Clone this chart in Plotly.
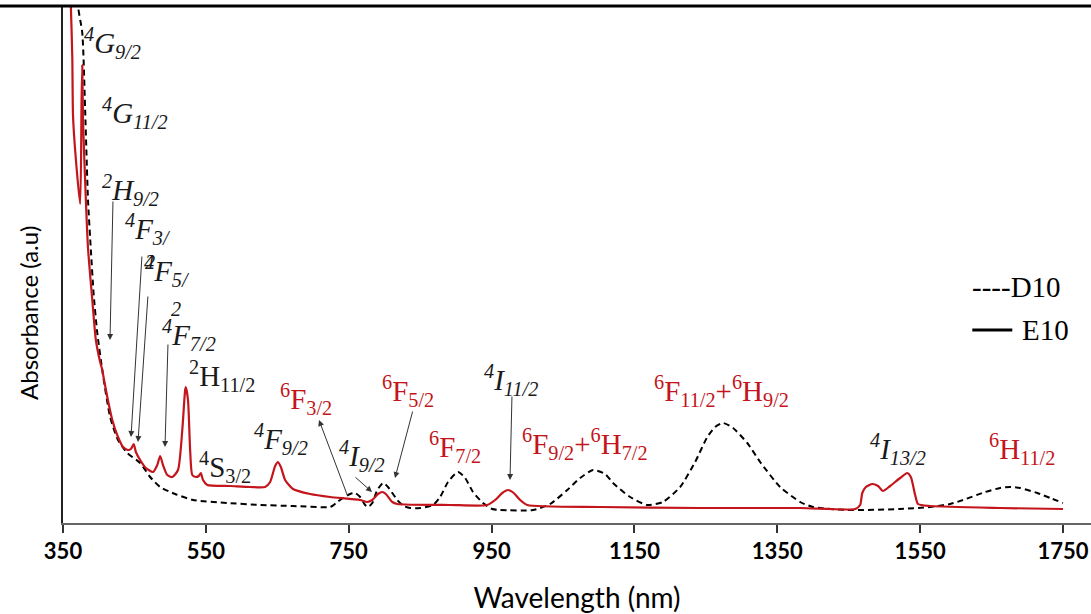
import plotly.graph_objects as go

# ---------------- data (wavelength nm, absorbance a.u.) ----------------
e10_wl = [358, 361, 363, 364, 367, 374, 376, 377, 378, 382, 385, 391, 396, 402, 405, 407, 412,
          419, 427, 434, 441, 445, 449, 452, 458, 466, 476, 482, 486, 490, 496, 503, 511, 517,
          521, 522, 525, 528, 531, 536, 540, 543, 546, 552, 584, 612, 633, 640, 647, 651, 655,
          661, 672, 696, 724, 766, 776, 783, 791, 797, 802, 811, 818, 892, 944, 955, 965, 973,
          981, 990, 1000, 1102, 1242, 1382, 1459, 1466, 1469, 1474, 1483, 1491, 1498, 1508,
          1522, 1532, 1537, 1543, 1547, 1564, 1662, 1750]
e10_abs = [5.83, 5.17, 4.66, 4.08, 3.73, 3.19, 4.23, 4.58, 4.03, 3.23, 2.75, 2.23, 1.83, 1.61, 1.53,
           1.45, 1.26, 1.03, 0.86, 0.76, 0.73, 0.74, 0.79, 0.71, 0.63, 0.55, 0.51, 0.58, 0.67, 0.58,
           0.48, 0.46, 0.53, 0.93, 1.33, 1.36, 1.23, 0.73, 0.48, 0.46, 0.47, 0.50, 0.43, 0.38, 0.37,
           0.36, 0.36, 0.41, 0.57, 0.61, 0.56, 0.43, 0.34, 0.29, 0.26, 0.23, 0.21, 0.23, 0.29, 0.31,
           0.29, 0.21, 0.19, 0.18, 0.18, 0.23, 0.30, 0.33, 0.30, 0.23, 0.18, 0.16, 0.15, 0.15, 0.14,
           0.18, 0.30, 0.36, 0.39, 0.37, 0.32, 0.37, 0.45, 0.50, 0.46, 0.28, 0.19, 0.17, 0.15, 0.14]

d10_wl = [370, 371, 377, 381, 385, 389, 393, 398, 406, 416, 427, 440, 458, 472, 486, 507, 532, 580,
          626, 672, 724, 729, 734, 742, 752, 759, 766, 773, 777, 783, 790, 798, 805, 818, 827, 836,
          850, 868, 878, 889, 903, 913, 924, 938, 951, 962, 1008, 1032, 1056, 1074, 1092, 1109,
          1120, 1144, 1168, 1190, 1214, 1235, 1252, 1263, 1274, 1288, 1308, 1326, 1354, 1382,
          1400, 1448, 1522, 1564, 1592, 1610, 1641, 1662, 1676, 1690, 1714, 1732, 1750]
d10_abs = [5.63, 5.17, 4.90, 4.13, 3.23, 2.73, 2.28, 1.90, 1.48, 1.06, 0.83, 0.70, 0.60, 0.46, 0.36,
           0.29, 0.23, 0.20, 0.18, 0.17, 0.16, 0.18, 0.21, 0.25, 0.29, 0.30, 0.26, 0.18, 0.16, 0.20,
           0.33, 0.40, 0.36, 0.23, 0.17, 0.15, 0.15, 0.18, 0.26, 0.41, 0.51, 0.45, 0.31, 0.20, 0.14,
           0.13, 0.13, 0.19, 0.33, 0.45, 0.53, 0.49, 0.40, 0.26, 0.18, 0.21, 0.36, 0.61, 0.86, 0.96,
           1.00, 0.95, 0.80, 0.61, 0.36, 0.21, 0.16, 0.13, 0.14, 0.16, 0.19, 0.23, 0.31, 0.35, 0.36,
           0.35, 0.30, 0.25, 0.20]

tick_vals = [350, 550, 750, 950, 1150, 1350, 1550, 1750]
tick_text = [str(v) for v in tick_vals]

RED = "#C3151B"
BLK = "#1a1a1a"
SERIF = "Liberation Serif, Times New Roman, serif"
SANS = "Lato, Carlito, sans-serif"
CLEAR = "<span style='color:rgba(0,0,0,0)'>"

# labels: (text, x(nm), y(a.u.), color)
labels = [
    ("<i><sup>4</sup>G<sub>9/2</sub></i>", 377, 4.80, BLK),
    ("<i><sup>4</sup>G<sub>11/2</sub></i>", 402, 4.10, BLK),
    ("<i><sup>2</sup>H<sub>9/2</sub></i>", 402, 3.33, BLK),
    ("<i><sup>4</sup>F<sub>3/</sub></i>", 434, 2.94, BLK),
    ("<i><sup>4</sup>F<sub>5/</sub></i>", 461, 2.52, BLK),
    ("<i><sup>2</sup>" + CLEAR + "F<sub>5/</sub></span></i>", 462, 2.52, BLK),
    ("<i><sup>2</sup></i>", 498, 2.14, BLK),
    ("<i><sup>4</sup>F<sub>7/2</sub></i>", 486, 1.88, BLK),
    ("<sup>2</sup>H<sub>11/2</sub>", 524, 1.47, BLK),
    ("<sup>4</sup>S<sub>3/2</sub>", 538, 0.56, BLK),
    ("<i><sup>4</sup>F<sub>9/2</sub></i>", 615, 0.84, BLK),
    ("<sup>6</sup>F<sub>3/2</sub>", 651, 1.24, RED),
    ("<i><sup>4</sup>I<sub>9/2</sub></i>", 734, 0.67, BLK),
    ("<sup>6</sup>F<sub>5/2</sub>", 794, 1.32, RED),
    ("<sup>6</sup>F<sub>7/2</sub>", 860, 0.76, RED),
    ("<i><sup>4</sup>I<sub>11/2</sub></i>", 937, 1.43, BLK),
    ("<sup>6</sup>F<sub>9/2</sub>+<sup>6</sup>H<sub>7/2</sub>", 990, 0.79, RED),
    ("<sup>6</sup>F<sub>11/2</sub>+<sup>6</sup>H<sub>9/2</sub>", 1175, 1.32, RED),
    ("<i><sup>4</sup>I<sub>13/2</sub></i>", 1477, 0.74, BLK),
    ("<sup>6</sup>H<sub>11/2</sub>", 1644, 0.74, RED),
]

# arrows: (tail x, tail y, head x, head y)
arrows = [
    (420, 3.23, 415.8, 1.83),
    (460.6, 2.68, 445.2, 0.86),
    (469, 2.28, 455, 0.81),
    (497, 1.80, 492.8, 0.76),
    (749, 0.26, 708.4, 1.03),
    (757.4, 0.47, 782.6, 0.31),
    (840, 1.13, 814.8, 0.45),
    (978.6, 1.28, 975.8, 0.43),
]

fig = go.Figure()
fig.add_trace(go.Scatter(x=d10_wl, y=d10_abs, mode="lines", name="D10",
                         line=dict(color="black", width=2, dash="6px,4px", shape="spline", smoothing=0.6)))
fig.add_trace(go.Scatter(x=e10_wl, y=e10_abs, mode="lines", name="E10",
                         line=dict(color=RED, width=2.2, shape="spline", smoothing=0.6)))

annotations = []
for txt, x, y, col in labels:
    annotations.append(dict(x=x, y=y, xref="x", yref="y", text=txt, showarrow=False,
                            xanchor="left", yanchor="middle",
                            font=dict(family=SERIF, size=29, color=col)))
for tx, ty, hx, hy in arrows:
    annotations.append(dict(x=hx, y=hy, ax=tx, ay=ty, xref="x", yref="y", axref="x", ayref="y",
                            text="", showarrow=True, arrowhead=2, arrowsize=1.2, arrowwidth=1,
                            arrowcolor="#333333", standoff=0, startstandoff=0))
# legend
annotations.append(dict(x=1620, y=2.36, xref="x", yref="y", text="----D10", showarrow=False,
                        xanchor="left", yanchor="middle", font=dict(family=SERIF, size=29, color="black")))
annotations.append(dict(x=1690, y=1.93, xref="x", yref="y", text="E10", showarrow=False,
                        xanchor="left", yanchor="middle", font=dict(family=SERIF, size=29, color="black")))
# y-axis title (paper coords are relative to plot area: x0 at 63px, width 1028px; y 6..523px)
annotations.append(dict(x=(28 - 63) / 1028, y=(523 - 313) / 517, xref="paper", yref="paper",
                        text="Absorbance (a.u)", textangle=-90, showarrow=False,
                        xanchor="center", yanchor="middle",
                        font=dict(family=SANS, size=24, color="black")))

shapes = [
    dict(type="line", xref="x", yref="y", x0=1623, x1=1679, y0=1.93, y1=1.93,
         line=dict(color="black", width=3)),
    dict(type="line", xref="paper", yref="paper", x0=-63 / 1028, x1=1, y0=1, y1=1,
         line=dict(color="black", width=3)),
]

fig.update_layout(
    width=1091, height=614,
    margin=dict(l=63, r=0, t=6, b=91),
    paper_bgcolor="white", plot_bgcolor="white",
    showlegend=False,
    annotations=annotations, shapes=shapes,
    xaxis=dict(range=[350, 1789.2], tickvals=tick_vals, ticktext=tick_text,
               ticks="outside", ticklen=8, tickcolor="#333", tickwidth=1.5,
               showline=True, linecolor="#666", linewidth=2, showgrid=False, zeroline=False,
               tickfont=dict(family=SANS, size=22, color="black", weight="bold"),
               title=dict(text="Wavelength (nm)", standoff=26,
                          font=dict(family=SANS, size=28, color="black"))),
    yaxis=dict(range=[0, 5.17], showticklabels=False, ticks="", showline=True,
               linecolor="#222", linewidth=2, showgrid=False, zeroline=False),
)

fig.write_html("out.html")
